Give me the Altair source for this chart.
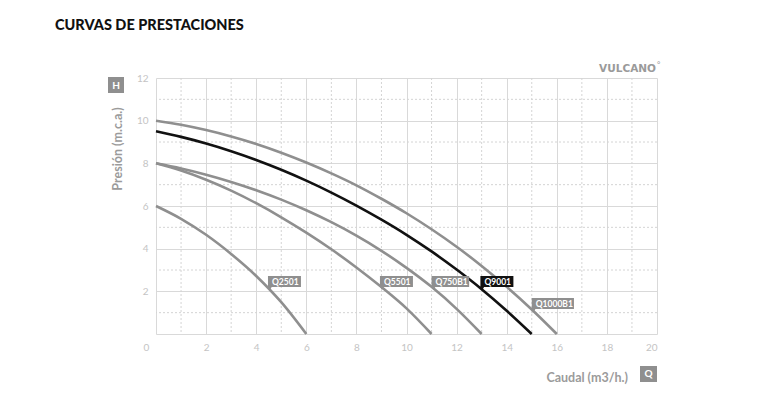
import altair as alt
import pandas as pd

# ---- data ----
q2501_x = [0, 1, 2, 3, 4, 5, 6]
q2501_y = [6.0, 5.4, 4.65, 3.75, 2.72, 1.49, 0.0]

q5501_x = [0, 1, 2, 3, 4, 5, 6, 7, 8, 9, 10, 11]
q5501_y = [8.0, 7.66, 7.23, 6.72, 6.13, 5.47, 4.75, 3.97, 3.12, 2.2, 1.2, 0.0]

q750_x = [0, 1, 2, 3, 4, 5, 6, 7, 8, 9, 10, 11, 12, 13]
q750_y = [8.0, 7.76, 7.47, 7.13, 6.74, 6.3, 5.8, 5.24, 4.61, 3.9, 3.1, 2.21, 1.18, 0.0]

q9001_x = [0, 1, 2, 3, 4, 5, 6, 7, 8, 9, 10, 11, 12, 13, 14, 15]
q9001_y = [9.5, 9.24, 8.93, 8.57, 8.16, 7.7, 7.19, 6.63, 6.02, 5.36, 4.65, 3.87, 3.02, 2.1, 1.09, 0.0]

q1000_x = [0, 1, 2, 3, 4, 5, 6, 7, 8, 9, 10, 11, 12, 13, 14, 15, 16]
q1000_y = [10.0, 9.81, 9.56, 9.26, 8.91, 8.5, 8.04, 7.53, 6.97, 6.34, 5.66, 4.91, 4.09, 3.19, 2.21, 1.15, 0.0]

series_names = ["Q2501", "Q5501", "Q750B1", "Q9001", "Q1000B1"]
label_x = [4.47, 8.94, 11.0, 12.95, 15.0]
label_y = [2.2, 2.2, 2.2, 2.2, 1.17]

x_ticks = [0, 2, 4, 6, 8, 10, 12, 14, 16, 18, 20]
y_ticks = [0, 2, 4, 6, 8, 10, 12]
x_minor = [1, 3, 5, 7, 9, 11, 13, 15, 17, 19]
y_minor = [1, 3, 5, 7, 9, 11]

# ---- build tables ----
rows = []
for name, xs_, ys_ in zip(series_names,
                          [q2501_x, q5501_x, q750_x, q9001_x, q1000_x],
                          [q2501_y, q5501_y, q750_y, q9001_y, q1000_y]):
    for xv, yv in zip(xs_, ys_):
        rows.append({"serie": name, "q": xv, "h": yv})
curves = pd.DataFrame(rows)
labels = pd.DataFrame({"serie": series_names, "lx": label_x, "ly": label_y})

FONT = "Lato"
GRAY = "#8f8f8f"
BLACK = "#111111"

xs = alt.Scale(domain=[0, 20], nice=False)
ys = alt.Scale(domain=[0, 12], nice=False)

x_axis = alt.Axis(values=x_ticks, title=None, domain=False, ticks=False,
                  grid=True, gridColor="#d9d9d9", labelColor="#c4c4c4",
                  labelFont=FONT, labelFontSize=10, labelPadding=8,
                  labelOffset={"condition": {"test": "datum.value == 0", "value": -13}, "value": 0})
y_axis = alt.Axis(values=y_ticks, title=None, domain=False, ticks=False,
                  grid=True, gridColor="#d9d9d9", labelColor="#c4c4c4",
                  labelFont=FONT, labelFontSize=10, labelPadding=8,
                  labelExpr="datum.value == 0 ? '' : datum.label")

base_axes = alt.Chart(curves).mark_line(opacity=0).encode(
    x=alt.X("q:Q", scale=xs, axis=x_axis),
    y=alt.Y("h:Q", scale=ys, axis=y_axis),
    detail="serie:N",
)

vminor = alt.Chart(pd.DataFrame({"v": x_minor})).mark_rule(
    color="#d4d4d4", strokeDash=[2, 2], strokeWidth=1
).encode(x=alt.X("v:Q", scale=xs))
hminor = alt.Chart(pd.DataFrame({"v": y_minor})).mark_rule(
    color="#d4d4d4", strokeDash=[2, 2], strokeWidth=1
).encode(y=alt.Y("v:Q", scale=ys))

gray_lines = alt.Chart(curves).transform_filter("datum.serie != 'Q9001'").mark_line(
    color=GRAY, strokeWidth=2.6, interpolate="monotone"
).encode(x=alt.X("q:Q", scale=xs), y=alt.Y("h:Q", scale=ys), detail="serie:N",
         order="q:Q")
black_line = alt.Chart(curves).transform_filter("datum.serie == 'Q9001'").mark_line(
    color=BLACK, strokeWidth=2.6, interpolate="monotone"
).encode(x=alt.X("q:Q", scale=xs), y=alt.Y("h:Q", scale=ys), order="q:Q")

lab_base = alt.Chart(labels).transform_calculate(
    lx2="datum.lx + (length(datum.serie) * 4.6 + 10) * 20 / 501",
    ly2="datum.ly + 11 * 12 / 256",
    lym="datum.ly + 5.5 * 12 / 256",
)
color_enc = alt.Color("serie:N", scale=alt.Scale(
    domain=series_names, range=[GRAY, GRAY, GRAY, BLACK, GRAY]), legend=None)

lab_rect = lab_base.mark_rect().encode(
    x=alt.X("lx:Q", scale=xs), x2="lx2:Q",
    y=alt.Y("ly:Q", scale=ys), y2="ly2:Q",
    color=color_enc,
)
lab_tail = lab_base.mark_point(shape="triangle-down", filled=True, size=18,
                               opacity=1, xOffset=2, yOffset=1).encode(
    x=alt.X("lx:Q", scale=xs), y=alt.Y("ly:Q", scale=ys), color=color_enc,
)
lab_text = lab_base.mark_text(align="left", baseline="middle", dx=4, dy=0.5,
                              font=FONT, fontSize=8.5, fontWeight="bold",
                              color="white").encode(
    x=alt.X("lx:Q", scale=xs), y=alt.Y("lym:Q", scale=ys), text="serie:N",
)

# ---- decorations (text kept as data) ----
title = alt.Chart(pd.DataFrame({"t": ["CURVAS DE PRESTACIONES"]})).mark_text(
    align="left", baseline="alphabetic", font=FONT, fontSize=14.5,
    fontWeight=900, color="#111111"
).encode(x=alt.value(-101), y=alt.value(-48), text="t:N")

logo = alt.Chart(pd.DataFrame({"t": ["VULCANO"]})).mark_text(
    align="right", baseline="alphabetic", font="DejaVu Sans", fontSize=10.5,
    fontWeight="bold", color="#9a9a9a"
).encode(x=alt.value(500), y=alt.value(-6), text="t:N")
logo_deg = alt.Chart(pd.DataFrame({"t": ["°"]})).mark_text(
    align="left", baseline="alphabetic", font=FONT, fontSize=8,
    color="#9a9a9a"
).encode(x=alt.value(501), y=alt.value(-11), text="t:N")

ytitle = alt.Chart(pd.DataFrame({"t": ["Presión (m.c.a.)"]})).mark_text(
    align="center", baseline="middle", angle=270, font=FONT, fontSize=12.5,
    fontWeight="bold", color="#9b9b9b"
).encode(x=alt.value(-38), y=alt.value(71), text="t:N")
xtitle = alt.Chart(pd.DataFrame({"t": ["Caudal (m3/h.)"]})).mark_text(
    align="right", baseline="middle", font=FONT, fontSize=12.5,
    fontWeight="bold", color="#9b9b9b"
).encode(x=alt.value(472), y=alt.value(300), text="t:N")

h_box = alt.Chart(pd.DataFrame({"t": ["H"]})).mark_rect(color=GRAY).encode(
    x=alt.value(-48), x2=alt.value(-32), y=alt.value(-1), y2=alt.value(15))
h_txt = alt.Chart(pd.DataFrame({"t": ["H"]})).mark_text(
    align="center", baseline="middle", font=FONT, fontSize=10,
    fontWeight="bold", color="white"
).encode(x=alt.value(-40), y=alt.value(7.5), text="t:N")
q_box = alt.Chart(pd.DataFrame({"t": ["Q"]})).mark_rect(color=GRAY).encode(
    x=alt.value(484), x2=alt.value(501), y=alt.value(288), y2=alt.value(304))
q_txt = alt.Chart(pd.DataFrame({"t": ["Q"]})).mark_text(
    align="center", baseline="middle", font=FONT, fontSize=10,
    fontWeight="bold", color="white"
).encode(x=alt.value(492.5), y=alt.value(296), text="t:N")

chart = alt.layer(
    base_axes, vminor, hminor, gray_lines, black_line,
    lab_rect, lab_tail, lab_text,
    title, logo, logo_deg, ytitle, xtitle, h_box, h_txt, q_box, q_txt,
).properties(
    width=501, height=256,
    autosize=alt.AutoSizeParams(type="none"),
    padding={"left": 156, "top": 78, "right": 111, "bottom": 62},
    background="white",
).configure_view(strokeWidth=0)

chart.save("out.html", embed_options={"renderer": "svg", "actions": False})
